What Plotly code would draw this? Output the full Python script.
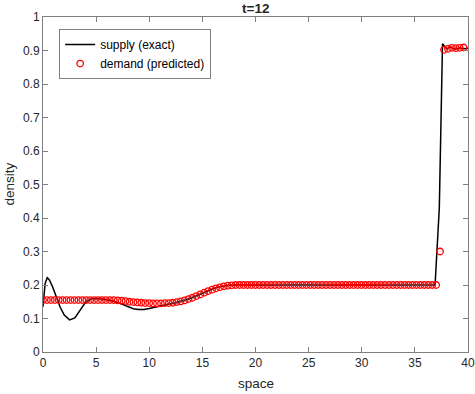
import plotly.graph_objects as go

# ---- data ----
supply_x = [0, 0.2, 0.4, 0.6, 0.9, 1.2, 1.6, 2.0, 2.5, 3.0, 3.5, 4.0, 4.5, 5.0, 5.5,
            6.0, 6.5, 7.0, 7.5, 8.0, 8.5, 9.0, 9.5, 10.0, 10.5, 11.0, 11.5, 12.0,
            12.5, 13.0, 13.5, 14.0, 14.5, 15.0, 15.5, 16.0, 16.5, 17.0, 17.5, 18.0,
            19, 20, 22, 24, 26, 28, 30, 32, 34, 36, 36.9, 37.3, 37.6, 38.0, 38.4,
            38.8, 39.2, 39.6, 40.0]
supply_density = [0.135, 0.205, 0.222, 0.215, 0.195, 0.170, 0.135, 0.110, 0.096, 0.102,
                  0.125, 0.148, 0.158, 0.160, 0.158, 0.156, 0.153, 0.148, 0.141, 0.134,
                  0.129, 0.127, 0.127, 0.130, 0.134, 0.138, 0.141, 0.144, 0.147, 0.151,
                  0.156, 0.162, 0.169, 0.176, 0.183, 0.189, 0.194, 0.197, 0.199, 0.200,
                  0.200, 0.200, 0.200, 0.200, 0.200, 0.200, 0.200, 0.200, 0.200, 0.200,
                  0.200, 0.430, 0.920, 0.905, 0.910, 0.903, 0.908, 0.905, 0.907]

demand_step = 0.37
demand_density = (
    [0.155] * 19 +
    [0.154, 0.153, 0.152, 0.150, 0.149, 0.148, 0.147, 0.146, 0.146, 0.145,
     0.145, 0.145, 0.146, 0.146, 0.147, 0.149, 0.151, 0.154, 0.158, 0.162,
     0.167, 0.172, 0.177, 0.182, 0.186, 0.190, 0.193, 0.196, 0.198, 0.199] +
    [0.200] * 52 +
    [0.300, 0.902, 0.905, 0.908, 0.907, 0.908, 0.909]
)
demand_x = [round(i * demand_step, 3) for i in range(len(demand_density))]

x_ticks = [0, 5, 10, 15, 20, 25, 30, 35, 40]
y_ticks = [0, 0.1, 0.2, 0.3, 0.4, 0.5, 0.6, 0.7, 0.8, 0.9, 1]
y_tick_labels = ["0", "0.1", "0.2", "0.3", "0.4", "0.5", "0.6", "0.7", "0.8", "0.9", "1"]

FONT = "Liberation Sans, Arial, Helvetica, sans-serif"
TXT = "#262626"
AX = "#808080"
W, H = 475, 394
ML, MR, MT, MB = 43, 7, 17, 42

fig = go.Figure()
fig.add_trace(go.Scatter(
    x=supply_x, y=supply_density, mode="lines", name="supply (exact)",
    line=dict(color="black", width=1.5)))
fig.add_trace(go.Scatter(
    x=demand_x, y=demand_density, mode="markers", name="demand (predicted)",
    marker=dict(symbol="circle-open", color="#ff0000", size=6.5,
                line=dict(color="#ff0000", width=1.3))))

axis_common = dict(
    showline=True, linecolor=AX, linewidth=1, mirror="ticks",
    ticks="inside", ticklen=5, tickcolor=AX, tickwidth=1,
    showgrid=False, zeroline=False, automargin=False,
    tickfont=dict(family=FONT, size=12, color=TXT),
)

fig.update_layout(
    width=W, height=H,
    margin=dict(l=ML, r=MR, t=MT, b=MB, autoexpand=False),
    paper_bgcolor="white", plot_bgcolor="white",
    font=dict(family=FONT, color=TXT),
    xaxis=dict(range=[0, 40], tickvals=x_ticks, **axis_common),
    yaxis=dict(range=[0, 1], tickvals=y_ticks, ticktext=y_tick_labels, **axis_common),
    legend=dict(x=0.038, y=0.964, xanchor="left", yanchor="top",
                bgcolor="white", bordercolor=AX, borderwidth=1,
                font=dict(family=FONT, size=12, color="black"),
                tracegroupgap=0, itemwidth=30),
    showlegend=True,
    annotations=[
        dict(text="<b>t=12</b>", xref="paper", yref="paper", x=0.5,
             y=1 + (MT - 8) / (H - MT - MB), xanchor="center", yanchor="middle",
             showarrow=False, font=dict(family=FONT, size=13.5, color=TXT)),
        dict(text="space", xref="paper", yref="paper", x=0.5,
             y=-(383 - (H - MB)) / (H - MT - MB), xanchor="center", yanchor="middle",
             showarrow=False, font=dict(family=FONT, size=13.5, color=TXT)),
        dict(text="density", xref="paper", yref="paper", x=-(ML - 9) / (W - ML - MR),
             y=0.5, xanchor="center", yanchor="middle", textangle=-90,
             showarrow=False, font=dict(family=FONT, size=13.5, color=TXT)),
    ],
)

fig.write_html("out.html", config={"displayModeBar": False},
               post_script="document.body.style.margin='0';document.body.style.overflow='hidden';")
